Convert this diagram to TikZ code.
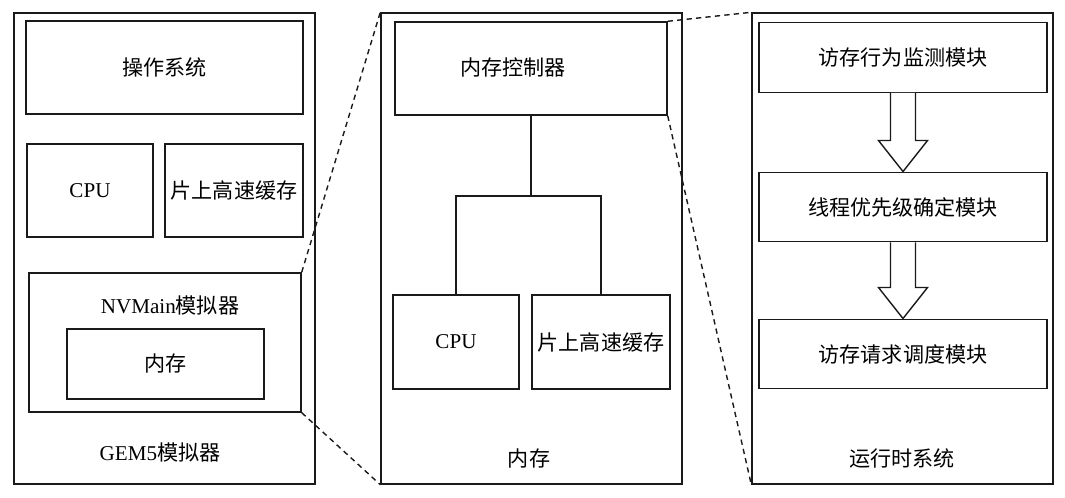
\documentclass[tikz,border=0pt]{standalone}
\usepackage{fontspec}
\setmainfont{Liberation Serif}
\newfontfamily\cjk{Noto Sans CJK SC}
\usetikzlibrary{calc, positioning}
\definecolor{cline}{HTML}{1A1A1A}
\tikzset{
  every picture/.style={font=\fontsize{12}{14}\selectfont, line width=0.8pt},
  box/.style={draw=cline, align=center, inner sep=2pt, minimum width=#1},
  panel/.style={draw=cline, minimum width=6.02cm, minimum height=9.42cm},
  zoomline/.style={draw=cline, dash pattern=on 3pt off 2.4pt},
  fatarrow/.style={draw=cline, fill=white, line join=miter},
}

\begin{document}
\begin{tikzpicture}
  \useasboundingbox (0,0) rectangle (21.3,9.96);
  % simulator
  \node[panel] (gem) at (3.29,4.99) {};
  \node[box=5.54cm, minimum height=1.86cm] (os) at (3.29,8.61) {\cjk 操作系统};
  \node[box=2.52cm, minimum height=1.86cm] (cpuA) at (1.80,6.15) {CPU};
  \node[box=2.76cm, minimum height=1.86cm] (cacheA) at (4.68,6.15) {\cjk 片上高速缓存};
  \node[box=5.44cm, minimum height=2.78cm] (nvm) at (3.30,3.11) {};
  \node (nvmtxt) at (3.40,3.86) {NVMain{\cjk 模拟器}};
  \node[box=3.94cm, minimum height=1.40cm] (memA) at (3.31,2.68) {\cjk 内存};
  \node (gemtxt) at (3.20,0.92) {GEM5{\cjk 模拟器}};
  % memory
  \node[panel] (memB) at (10.63,4.99) {};
  \node[box=5.44cm, minimum height=1.86cm] (ctrl) at (10.62,8.59) {};
  \node (ctrltxt) at (10.26,8.60) {\cjk 内存控制器};
  \node[box=2.52cm, minimum height=1.88cm] (cpuB) at (9.12,3.12) {CPU};
  \node[box=2.76cm, minimum height=1.88cm] (cacheB) at (12.02,3.12) {\cjk 片上高速缓存};
  \coordinate (jn) at (10.62,6.04);
  \draw[cline] (ctrl) -- (jn);
  \draw[cline] (cpuB) |- (jn) -| (cacheB);
  \node (memtxt) at (10.58,0.78) {\cjk 内存};
  % runtime system
  \node[panel] (rts) at (18.05,4.99) {};
  \foreach \t/\y [count=\k] in {访存行为监测模块/8.81, 线程优先级确定模块/5.82, 访存请求调度模块/2.88}
    \node[box=5.76cm, minimum height=1.39cm] (m\k) at (18.06,\y) {\cjk \t};
  \foreach \a/\b in {m1/m2, m2/m3}
    \draw[fatarrow] ($(\a.south)+(-0.25,0)$) -- ($(\b.north)+(-0.25,0.62)$) -- ++(-0.24,0) -- (\b.north)
      -- ($(\b.north)+(0.49,0.62)$) -- ++(-0.24,0) -- ($(\a.south)+(0.25,0)$);
  \node (rtstxt) at (18.04,0.80) {\cjk 运行时系统};
  % zoom lines
  \draw[zoomline] (nvm.north east) -- (memB.north west);
  \draw[zoomline] (nvm.south east) -- (memB.south west);
  \draw[zoomline] (ctrl.north east) -- (rts.north west);
  \draw[zoomline] (ctrl.south east) -- (rts.south west);
\end{tikzpicture}
\end{document}
